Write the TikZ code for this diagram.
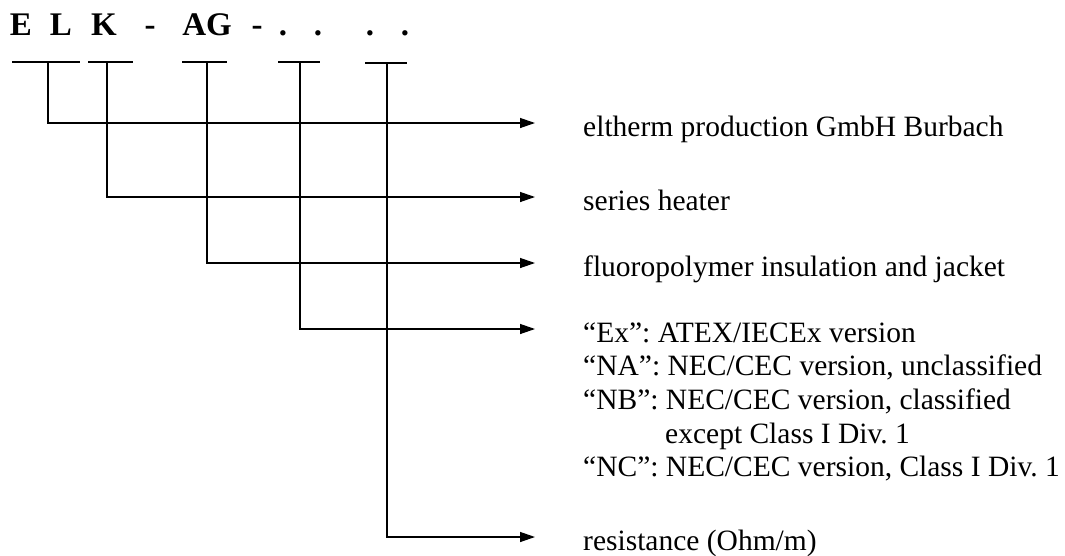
\documentclass[tikz,border=0pt]{standalone}
\usepackage{fontspec}
\setmainfont{Liberation Serif}
\usetikzlibrary{arrows.meta}
\frenchspacing

\begin{document}
\begin{tikzpicture}[x=1pt,y=-1pt,
				code/.style={anchor=base,inner sep=0pt,font=\fontsize{33}{36}\selectfont\bfseries},
				desc/.style={anchor=base west,inner sep=0pt,font=\fontsize{29.5}{33.7}\selectfont},
				conn/.style={line width=1.3pt,-{Triangle[length=15pt,width=10pt]}},
				tick/.style={line width=1.3pt}]
				\useasboundingbox (0,0) rectangle (1065,555);

				% type code
				\node (cE) [code] at (21,35) {E};
				\node (cL) [code] at (61,35) {L};
				\node (cK) [code] at (104,35) {K};
				\node (dash1) [code] at (150,35) {-};
				\node (cAG) [code] at (207,35) {AG};
				\node (dash2) [code] at (257,35) {-};
				\node (dot1) [code] at (283,35) {.};
				\node (dot2) [code] at (318,35) {.};
				\node (dot3) [code] at (370,35) {.};
				\node (dot4) [code] at (405,35) {.};

				% ticks under the code
				\foreach \a/\b/\m/\h/\n in {12/80/48/62/1, 88/133/107/62/2, 182/227/207/62/3, 278/320/300/62/4, 365/407/387/63/5} {
					\draw [tick] (\a,\h) -- (\b,\h);
					\coordinate (tk\n) at (\m,\h);
				}

				% meanings
				\node (maker) [desc] at (583,136) {eltherm production GmbH Burbach};
				\node (series) [desc] at (583,210) {series heater};
				\node (jacket) [desc] at (583,276) {fluoropolymer insulation and jacket};
				\node (version) [desc] at (583,342) {\begin{tabular}[t]{@{}l@{}}
					``Ex'': ATEX/IECEx version\\
					``NA'': NEC/CEC version, unclassified\\
					``NB'': NEC/CEC version, classified\\
					\hspace{82pt}except Class I Div. 1\\
					``NC'': NEC/CEC version, Class I Div. 1
					\end{tabular}};
				\node (resist) [desc] at (583,550) {resistance (Ohm/m)};

				\draw [conn] (tk1) |- ([xshift=-48pt,yshift=13pt]maker.base west);
				\draw [conn] (tk2) |- ([xshift=-48pt,yshift=13pt]series.base west);
				\draw [conn] (tk3) |- ([xshift=-48pt,yshift=13pt]jacket.base west);
				\draw [conn] (tk4) |- ([xshift=-48pt,yshift=13pt]version.base west);
				\draw [conn] (tk5) |- ([xshift=-48pt,yshift=13pt]resist.base west);
			\end{tikzpicture}
\end{document}
